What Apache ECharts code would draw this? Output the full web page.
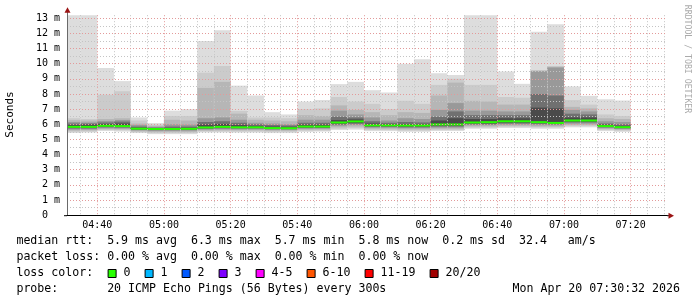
<!DOCTYPE html>
<html><head><meta charset="utf-8">
<script src="https://cdn.jsdelivr.net/npm/echarts@6/dist/echarts.min.js"></script>
<style>html,body{margin:0;padding:0;background:#fff;}#c{width:697px;height:297px;}</style>
</head><body><div id="c"></div>
<script>
// ---- data (5-minute steps, values in ms) ----
const stepStarts = ['04:30','04:35','04:40','04:45','04:50','04:55','05:00','05:05','05:10','05:15','05:20','05:25','05:30','05:35','05:40','05:45','05:50','05:55','06:00','06:05','06:10','06:15','06:20','06:25','06:30','06:35','06:40','06:45','06:50','06:55','07:00','07:05','07:10','07:15'];
const median = [5.83,5.83,5.9,5.88,5.71,5.69,5.69,5.7,5.79,5.83,5.8,5.8,5.75,5.74,5.85,5.85,6.12,6.19,5.93,5.93,5.92,5.92,5.99,5.99,6.12,6.14,6.2,6.2,6.14,6.09,6.25,6.25,5.88,5.81];
const upper1 = [13.2,13.2,9.72,8.85,6.45,6.08,6.9,7.0,11.5,12.2,8.55,7.9,6.8,6.65,7.5,7.6,8.65,8.8,8.25,8.1,10.0,10.3,9.37,9.25,13.2,13.2,9.48,8.67,12.1,12.6,8.5,7.88,7.65,7.57];
const upper2 = [6.4,6.35,7.95,8.18,6.25,5.98,6.55,6.55,9.4,9.85,6.88,6.45,6.45,6.4,7.0,7.05,7.8,7.5,7.35,7.0,7.55,7.35,8.6,9.0,8.6,8.6,7.8,7.75,9.55,9.85,7.6,7.3,6.65,6.55];
const upper3 = [6.27,6.25,6.35,6.4,6.05,5.9,6.3,6.25,8.4,8.8,6.7,6.3,6.25,6.2,6.6,6.55,7.25,6.95,6.8,6.6,6.8,6.75,7.9,8.75,7.55,7.5,7.3,7.3,9.55,9.8,7.15,7.05,6.4,6.35];
const upper4 = [6.15,6.12,6.22,6.28,5.95,5.83,6.0,5.98,6.4,6.45,6.3,6.1,6.05,6.0,6.3,6.3,6.9,6.65,6.45,6.25,6.4,6.35,6.95,7.4,6.9,6.9,6.85,6.85,9.5,9.75,6.95,6.85,6.2,6.15];
const upper5 = [6.05,6.05,6.12,6.18,5.85,5.78,5.85,5.85,6.15,6.2,6.1,6.0,5.95,5.92,6.1,6.1,6.5,6.45,6.2,6.1,6.15,6.12,6.5,6.85,6.6,6.6,6.6,6.6,8.0,7.9,6.7,6.65,6.05,6.0];
const upper6 = [5.95,5.98,6.02,6.05,5.78,5.74,5.76,5.77,5.98,6.02,5.95,5.9,5.85,5.83,5.97,5.97,6.28,6.32,6.05,6.02,6.02,6.0,6.25,6.4,6.35,6.35,6.4,6.4,7.1,7.05,6.45,6.45,5.97,5.9];
const lower1 = [5.43,5.45,5.55,5.52,5.42,5.35,5.35,5.35,5.45,5.45,5.45,5.45,5.42,5.42,5.5,5.52,5.62,5.65,5.55,5.55,5.5,5.5,5.55,5.55,5.7,5.7,5.75,5.75,5.7,5.7,5.8,5.8,5.55,5.5];
const lower2 = [5.5,5.52,5.62,5.6,5.48,5.42,5.42,5.42,5.52,5.52,5.52,5.52,5.5,5.5,5.57,5.58,5.7,5.75,5.62,5.62,5.58,5.58,5.62,5.62,5.78,5.78,5.83,5.83,5.78,5.78,5.88,5.88,5.62,5.57];
const lower3 = [5.58,5.6,5.68,5.66,5.54,5.5,5.5,5.5,5.58,5.6,5.6,5.6,5.57,5.57,5.64,5.65,5.8,5.85,5.7,5.7,5.66,5.66,5.7,5.7,5.86,5.86,5.9,5.9,5.86,5.86,5.96,5.96,5.69,5.63];
const lower4 = [5.65,5.66,5.74,5.72,5.6,5.56,5.56,5.57,5.65,5.67,5.66,5.66,5.63,5.63,5.7,5.71,5.9,5.95,5.77,5.77,5.74,5.74,5.78,5.78,5.94,5.94,5.98,5.98,5.94,5.93,6.04,6.04,5.75,5.69];
const lower5 = [5.72,5.72,5.8,5.78,5.64,5.62,5.62,5.63,5.7,5.73,5.72,5.72,5.68,5.68,5.76,5.76,5.98,6.03,5.83,5.83,5.8,5.8,5.85,5.85,6.0,6.0,6.05,6.05,6.02,6.0,6.12,6.12,5.8,5.74];
const lower6 = [5.77,5.78,5.85,5.83,5.68,5.66,5.66,5.67,5.75,5.78,5.76,5.76,5.72,5.72,5.8,5.8,6.05,6.1,5.88,5.88,5.86,5.86,5.92,5.92,6.06,6.06,6.12,6.12,6.08,6.05,6.18,6.18,5.84,5.77];

const xTickLabels = ['04:40','05:00','05:20','05:40','06:00','06:20','06:40','07:00','07:20'];
const yTickLabels = ['0','1 m','2 m','3 m','4 m','5 m','6 m','7 m','8 m','9 m','10 m','11 m','12 m','13 m'];

const statsMedian = 'median rtt:  5.9 ms avg  6.3 ms max  5.7 ms min  5.8 ms now  0.2 ms sd  32.4   am/s';
const statsLoss = 'packet loss: 0.00 % avg  0.00 % max  0.00 % min  0.00 % now';
const lossLabels = ['0','1','2','3','4-5','6-10','11-19','20/20'];
const lossColors = ['#26ff00','#00b8ff','#0059ff','#7e00ff','#ff00ff','#ff5500','#ff0000','#a10000'];
const probeText = 'probe:       20 ICMP Echo Pings (56 Bytes) every 300s';
const stampText = 'Mon Apr 20 07:30:32 2026';
const graphStart = '04:30:55';
const graphSpanMin = 180;

// ---- build ----
const toMin = s => { const p = s.split(':').map(Number); return p[0]*60 + p[1] + (p[2]||0)/60; };
const X_MIN = toMin(graphStart), X_MAX = X_MIN + graphSpanMin;
const Y_MIN = 0, Y_MAX = 13.2;
const STEP = 5;
const uppers = [upper1,upper2,upper3,upper4,upper5,upper6];
const lowers = [lower1,lower2,lower3,lower4,lower5,lower6];
const bandColors = ['#dddddd','#cbcbcb','#b6b6b6','#999999','#707070','#4a4a4a'];
const data = stepStarts.map((s,i) => {
  const t = toMin(s);
  return [t, t+STEP, median[i]].concat(uppers.map(a=>a[i])).concat(lowers.map(a=>a[i]));
});
const majorX = xTickLabels.map(toMin);
const minorX = [];
for (let t = Math.ceil(X_MIN/STEP)*STEP; t <= X_MAX; t += STEP) if (majorX.indexOf(t) < 0) minorX.push(t);
const majorY = yTickLabels.map((_,i)=>i);
const minorY = majorY.slice(0,-1).map(v=>v+0.5);

const MONO = '"DejaVu Sans Mono", monospace';
const GRID = {left:67, right:30, top:15.2, bottom:81.8};

function renderItem(params, api) {
  const cs = params.coordSys;
  const clipBox = {x:cs.x, y:cs.y, width:cs.width, height:cs.height};
  const t0 = api.value(0), t1 = api.value(1);
  const children = [];
  const mk = (hi, lo, fill) => {
    const a = api.coord([t0, hi]), b = api.coord([t1, lo]);
    const r = echarts.graphic.clipRectByRect({x:a[0], y:a[1], width:b[0]-a[0], height:b[1]-a[1]}, clipBox);
    if (r) children.push({type:'rect', shape:r, style:{fill:fill}});
  };
  for (let k = 0; k < 6; k++) mk(api.value(3+k), api.value(9+k), bandColors[k]);
  const m0 = api.coord([t0, api.value(2)]), m1 = api.coord([t1, api.value(2)]);
  const r = echarts.graphic.clipRectByRect({x:m0[0], y:m0[1]-1, width:m1[0]-m0[0], height:2}, clipBox);
  if (r) children.push({type:'rect', shape:r, style:{fill:lossColors[0]}});
  return {type:'group', children:children};
}

const chart = echarts.init(document.getElementById('c'), null, {renderer:'canvas'});
const dotted = c => ({color:c, width:1, type:[1,2]});
chart.setOption({
  animation:false,
  backgroundColor:'#ffffff',
  grid:GRID,
  xAxis:[
    {type:'value', min:X_MIN, max:X_MAX, position:'bottom', z:3,
     axisLine:{show:false}, axisTick:{show:false, customValues:minorX}, axisLabel:{show:false},
     splitLine:{show:true, lineStyle:dotted('#c4c4c4')}},
    {type:'value', min:X_MIN, max:X_MAX, position:'bottom', z:4,
     axisLine:{show:true, onZero:false, lineStyle:{color:'#000', width:1}},
     axisTick:{show:false, customValues:majorX},
     axisLabel:{show:true, customValues:majorX, margin:5, color:'#000', fontFamily:MONO, fontSize:10,
       formatter:v=>xTickLabels[majorX.findIndex(m=>Math.abs(m-v)<1e-6)] || ''},
     splitLine:{show:true, lineStyle:dotted('#e39a9a')}}
  ],
  yAxis:[
    {type:'value', min:Y_MIN, max:Y_MAX, position:'left', z:4,
     axisLine:{show:true, onZero:false, lineStyle:{color:'#6a6a6a', width:1}},
     axisTick:{show:false, customValues:majorY},
     axisLabel:{show:true, customValues:majorY, margin:7, color:'#000', fontFamily:MONO, fontSize:10,
       formatter:v=>{ const s = yTickLabels[Math.round(v)]; return s.length===1 ? s+'  ' : s; }},
     splitLine:{show:true, lineStyle:dotted('#e39a9a')}},
    {type:'value', min:Y_MIN, max:Y_MAX, position:'left', z:3,
     axisLine:{show:false}, axisTick:{show:false, customValues:minorY}, axisLabel:{show:false},
     splitLine:{show:true, lineStyle:dotted('#c4c4c4')}}
  ],
  series:[{type:'custom', xAxisIndex:0, yAxisIndex:0, renderItem:renderItem, data:data,
    encode:{x:[0,1], y:[2]}, silent:true, z:2}]
});

// decorations: arrows, titles, legend
const tl = chart.convertToPixel({gridIndex:0}, [X_MIN, Y_MAX]);
const br = chart.convertToPixel({gridIndex:0}, [X_MAX, Y_MIN]);
const AR = '#9b1414';
const g = [];
g.push({type:'line', shape:{x1:tl[0]+0.5, y1:tl[1], x2:tl[0]+0.5, y2:tl[1]-4}, style:{stroke:'#6a6a6a', lineWidth:1}});
g.push({type:'polygon', shape:{points:[[tl[0]-2.5, tl[1]-2.5],[tl[0]+3.5, tl[1]-2.5],[tl[0]+0.5, tl[1]-8]]}, style:{fill:AR}});
g.push({type:'line', shape:{x1:br[0], y1:br[1]+0.5, x2:br[0]+2, y2:br[1]+0.5}, style:{stroke:'#000', lineWidth:1}});
g.push({type:'line', shape:{x1:tl[0]-3, y1:br[1]+0.5, x2:tl[0], y2:br[1]+0.5}, style:{stroke:'#000', lineWidth:1}});
g.push({type:'polygon', shape:{points:[[br[0]+1.5, br[1]-2.5],[br[0]+1.5, br[1]+3.5],[br[0]+7, br[1]+0.5]]}, style:{fill:AR}});
g.push({type:'text', x:10.5, y:114.5, rotation:Math.PI/2, style:{text:'Seconds', fontFamily:MONO, fontSize:11, fill:'#000', align:'center', verticalAlign:'middle'}});
g.push({type:'text', x:687.3, y:59, rotation:-Math.PI/2, style:{text:'RRDTOOL / TOBI OETIKER', fontFamily:MONO, fontSize:8.2, fill:'#aaaaaa', align:'center', verticalAlign:'middle'}});
const LF = 11.6, LX = 16.4;
g.push({type:'text', x:LX, y:241, style:{text:statsMedian, fontFamily:MONO, fontSize:LF, fill:'#000', verticalAlign:'middle'}});
g.push({type:'text', x:LX, y:257, style:{text:statsLoss, fontFamily:MONO, fontSize:LF, fill:'#000', verticalAlign:'middle'}});
g.push({type:'text', x:LX, y:273, style:{text:'loss color:', fontFamily:MONO, fontSize:LF, fill:'#000', verticalAlign:'middle'}});
const boxX = [107.6,144.6,181.6,218.6,255.6,306.6,364.6,429.6];
lossLabels.forEach((lab,i)=>{
  g.push({type:'rect', shape:{x:boxX[i]+0.5, y:269.5, width:8, height:8}, style:{fill:lossColors[i], stroke:'#000', lineWidth:1}});
  g.push({type:'text', x:boxX[i]+16, y:273, style:{text:lab, fontFamily:MONO, fontSize:LF, fill:'#000', verticalAlign:'middle'}});
});
g.push({type:'text', x:LX, y:289, style:{text:probeText, fontFamily:MONO, fontSize:LF, fill:'#000', verticalAlign:'middle'}});
g.push({type:'text', x:680, y:289, style:{text:stampText, fontFamily:MONO, fontSize:LF, fill:'#000', align:'right', verticalAlign:'middle'}});
chart.setOption({graphic:g});
</script></body></html>
